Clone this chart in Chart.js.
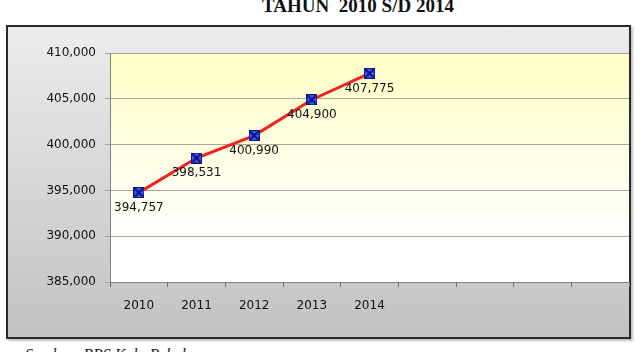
<!DOCTYPE html>
<html>
<head>
<meta charset="utf-8">
<script src="https://cdn.jsdelivr.net/npm/chart.js@4"></script>
<style>
  body { margin: 0; width: 644px; height: 352px; overflow: hidden; background: #fff; position: relative; }
  #title { position: absolute; left: 0; width: 716px; top: -5px; text-align: center;
           font: bold 19px "Liberation Serif", serif; color: #111; white-space: pre; }
  #box { position: absolute; left: 6px; top: 25px; width: 621px; height: 310px;
         border: 2px solid #2a2a2a; background: linear-gradient(#ececec, #c2c2c2);
         box-shadow: 2px 2px 2px rgba(0,0,0,0.25); }
  #source { position: absolute; left: 25px; top: 346px; font: italic 16px "Liberation Serif", serif; color: #222; }
  canvas { position: absolute; left: 0; top: 0; }
</style>
</head>
<body>
<div id="title">TAHUN  2010 S/D 2014</div>
<div id="box"></div>
<div id="source">Sumber: BPS Kab. Pekalongan</div>
<canvas id="chart" width="644" height="352"></canvas>
<script>
// ================= DATA =================
const years = ["2010", "2011", "2012", "2013", "2014", "", "", "", ""];
const population = [394757, 398531, 400990, 404900, 407775];
const yTicks = [385000, 390000, 395000, 400000, 405000, 410000];

// blue square marker with a cross
function makeMarker() {
  const c = document.createElement("canvas");
  c.width = 11; c.height = 11;
  const g = c.getContext("2d");
  g.fillStyle = "#3a5ee8";
  g.fillRect(0.5, 0.5, 10, 10);
  g.strokeStyle = "#10108a";
  g.lineWidth = 1;
  g.strokeRect(0.5, 0.5, 10, 10);
  g.lineWidth = 2;
  g.beginPath();
  g.moveTo(1.5, 1.5); g.lineTo(9.5, 9.5);
  g.moveTo(9.5, 1.5); g.lineTo(1.5, 9.5);
  g.stroke();
  return c;
}

const fmt = v => v.toLocaleString("en-US");

// ================= PLUGINS =================
const plotBg = {
  id: "plotBg",
  beforeDraw(chart) {
    const { ctx, chartArea: a } = chart;
    const grad = ctx.createLinearGradient(0, a.top, 0, a.bottom);
    grad.addColorStop(0, "#ffffc4");
    grad.addColorStop(0.8, "#ffffff");
    grad.addColorStop(1, "#ffffff");
    ctx.save();
    ctx.fillStyle = grad;
    ctx.fillRect(a.left, a.top, a.right - a.left, a.bottom - a.top);
    ctx.restore();
  }
};

const valueLabels = {
  id: "valueLabels",
  afterDatasetsDraw(chart) {
    const { ctx } = chart;
    const meta = chart.getDatasetMeta(0);
    ctx.save();
    ctx.font = "12px 'DejaVu Sans'";
    ctx.fillStyle = "#111";
    ctx.textAlign = "center";
    ctx.textBaseline = "middle";
    meta.data.forEach((pt, i) => {
      ctx.fillText(fmt(population[i]), pt.x, pt.y + 15);
    });
    ctx.restore();
  }
};

// ================= CHART =================
new Chart(document.getElementById("chart"), {
  type: "line",
  data: {
    labels: years,
    datasets: [{
      data: population,
      borderColor: "#f02020",
      borderWidth: 3,
      pointStyle: makeMarker(),
      pointRadius: 5,
      tension: 0
    }]
  },
  options: {
    responsive: false,
    animation: false,
    layout: { padding: { left: 30, right: 15, top: 53, bottom: 30 } },
    plugins: { legend: { display: false }, tooltip: { enabled: false } },
    scales: {
      x: {
        offset: true,
        grid: { offset: true, drawOnChartArea: false, tickLength: 5, color: "#707070" },
        border: { color: "#808080" },
        ticks: { color: "#111", font: { family: "DejaVu Sans", size: 12 }, padding: 12, maxRotation: 0, autoSkip: false },
        afterFit(s) { s.height = 40; }
      },
      y: {
        min: 385000,
        max: 410000,
        afterBuildTicks(s) { s.ticks = yTicks.map(v => ({ value: v })); },
        grid: { color: "#a6a69c", tickLength: 5 },
        border: { color: "#808080" },
        ticks: { color: "#111", font: { family: "DejaVu Sans", size: 12 }, padding: 9, callback: v => fmt(v) },
        afterFit(s) { s.width = 80; }
      }
    }
  },
  plugins: [plotBg, valueLabels]
});
</script>
</body>
</html>
